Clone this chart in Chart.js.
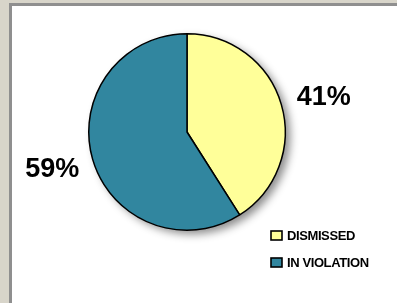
<!DOCTYPE html>
<html><head><meta charset="utf-8">
<script src="https://cdn.jsdelivr.net/npm/chart.js@4.4.0/dist/chart.umd.min.js"></script>
<style>
html,body{margin:0;padding:0;width:397px;height:303px;overflow:hidden;background:#d8d5ca;}
#frame{position:absolute;left:9px;top:3px;width:388px;height:300px;background:#fff;border-left:3px solid #8f8f8f;border-top:3px solid #8f8f8f;box-sizing:border-box;}
#c{position:absolute;left:0;top:0;}
</style></head><body>
<div id="frame"><canvas id="c" width="385" height="297"></canvas></div>
<script>
const categories = ["DISMISSED", "IN VIOLATION"];
const values = [41, 59];
const colors = ["#ffff99", "#31869f"];

const overlay = {
  id: 'overlay',
  beforeDatasetsDraw(chart) {
    const ctx = chart.ctx;
    const arc = chart.getDatasetMeta(0).data[0];
    ctx.save();
    ctx.shadowColor = 'rgba(0,0,0,0.45)';
    ctx.shadowBlur = 9;
    ctx.shadowOffsetX = 5;
    ctx.shadowOffsetY = 4;
    ctx.beginPath();
    ctx.arc(arc.x, arc.y, arc.outerRadius, 0, Math.PI * 2);
    ctx.fillStyle = '#fff';
    ctx.fill();
    ctx.restore();
  },
  afterDatasetsDraw(chart) {
    const ctx = chart.ctx;
    const meta = chart.getDatasetMeta(0);
    const nudge = [[2, 5], [0, -2]];
    ctx.save();
    ctx.fillStyle = '#000';
    ctx.font = 'bold 27px "Liberation Sans"';
    ctx.textAlign = 'center';
    ctx.textBaseline = 'middle';
    meta.data.forEach((a, i) => {
      const mid = (a.startAngle + a.endAngle) / 2;
      const r = a.outerRadius + 42;
      ctx.fillText(values[i] + '%', a.x + Math.cos(mid) * r + nudge[i][0], a.y + Math.sin(mid) * r + nudge[i][1]);
    });
    // legend
    ctx.font = 'bold 13px "Liberation Sans"';
    try { ctx.letterSpacing = '-0.4px'; } catch (e) {}
    ctx.textAlign = 'left';
    const lx = 259, ly0 = 230, step = 27;
    categories.forEach((name, i) => {
      const y = ly0 + i * step;
      ctx.fillStyle = colors[i];
      ctx.fillRect(lx, y - 5, 11, 9);
      ctx.strokeStyle = '#000';
      ctx.lineWidth = 1.6;
      ctx.strokeRect(lx, y - 5, 11, 9);
      ctx.fillStyle = '#000';
      ctx.fillText(name, lx + 16, y + 0.5);
    });
    ctx.restore();
  }
};

new Chart(document.getElementById('c'), {
  type: 'pie',
  data: {
    labels: categories,
    datasets: [{
      data: values,
      backgroundColor: colors,
      borderColor: '#000',
      borderWidth: 1.5,
      borderAlign: 'center'
    }]
  },
  options: {
    responsive: false,
    animation: false,
    layout: { padding: { left: 76, right: 111, top: 26, bottom: 71 } },
    plugins: { legend: { display: false }, tooltip: { enabled: false } }
  },
  plugins: [overlay]
});
</script>
</body></html>
